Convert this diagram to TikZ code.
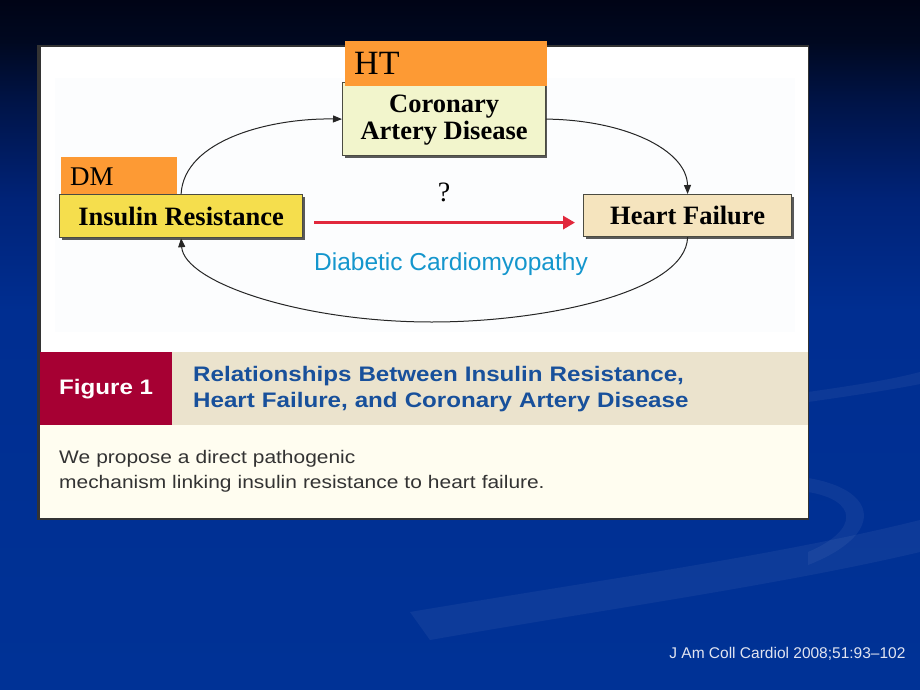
\documentclass[tikz,border=0pt]{standalone}
\usepackage{fontspec}
\setmainfont{Liberation Serif}
\newfontfamily\sansf{Liberation Sans}
\newfontfamily\sanswide[FakeStretch=1.15]{Liberation Sans}
\usetikzlibrary{arrows.meta}
\definecolor{bgtop}{RGB}{0,4,22}
\definecolor{bgtopb}{RGB}{0,8,32}
\definecolor{bgmid}{RGB}{0,20,72}
\definecolor{bgmidb}{RGB}{0,35,120}
\definecolor{bglow}{RGB}{0,46,145}
\definecolor{bgbot}{RGB}{0,50,150}
\definecolor{orangetag}{RGB}{253,154,52}
\definecolor{cadfill}{RGB}{242,245,204}
\definecolor{irfill}{RGB}{245,222,77}
\definecolor{hffill}{RGB}{245,228,190}
\definecolor{figred}{RGB}{166,0,51}
\definecolor{bandbeige}{RGB}{235,227,205}
\definecolor{creamy}{RGB}{255,253,240}
\definecolor{capblue}{RGB}{24,80,155}
\definecolor{dcblue}{RGB}{20,150,205}
\definecolor{redarr}{RGB}{225,40,60}
\definecolor{boxline}{RGB}{75,75,65}
\definecolor{citegray}{RGB}{225,228,240}
\definecolor{diagbg}{RGB}{252,253,254}
\pgfdeclareverticalshading{bgshade}{100bp}{color(0bp)=(bgbot); color(25bp)=(bgbot); color(52.5bp)=(bglow); color(60.5bp)=(bgmidb); color(67.5bp)=(bgmid); color(72bp)=(bgtopb); color(75bp)=(bgtop); color(100bp)=(bgtop)}
\tikzset{
  tag/.style={fill=orangetag, draw=none, inner xsep=9pt, inner ysep=0pt, anchor=north west, align=left},
  mainbox/.style={draw=boxline, line width=1.2pt, anchor=north west, align=center, inner sep=0pt,
     font=\fontsize{26.5}{29}\selectfont\bfseries},
  flow/.style={draw=black!85, line width=1pt, -{Triangle[length=9pt,width=7pt]}},
  shadowbox/.style={fill=black!65, draw=none},
  swoosh/.style={fill=white, opacity=0.05, draw=none}
}
\begin{document}
\begin{tikzpicture}[x=1pt,y=-1pt]
\useasboundingbox (0,0) rectangle (920,690);
% background
\fill[shading=bgshade] (0,0) rectangle (920,690);
\fill[swoosh] (808,392) .. controls (850,386) and (890,380) .. (920,372) -- (920,384) .. controls (890,390) and (850,396) .. (808,402) -- cycle;
\fill[swoosh] (410,612) .. controls (600,580) and (780,555) .. (920,520) -- (920,552) .. controls (780,585) and (600,610) .. (430,640) -- cycle;
\fill[swoosh] (808,478) .. controls (880,490) and (885,535) .. (808,565) -- (808,552) .. controls (860,530) and (858,500) .. (808,492) -- cycle;
% panel
\fill[black!80] (37,45) rectangle (809,520);
\fill[white] (41,47) rectangle (808,517);
\fill[diagbg] (55,78) rectangle (795,332);
% caption parts
\node[fill=figred, anchor=north west, minimum width=132pt, minimum height=73pt, inner sep=0pt, text=white,
      font=\sanswide\fontsize{21}{24}\selectfont\bfseries] (fig) at (40,352) {Figure 1};
\node[fill=bandbeige, anchor=north west, minimum width=636pt, minimum height=73pt, inner xsep=21pt, inner ysep=0pt,
      text width=594pt, align=left, text=capblue, font=\sanswide\fontsize{21}{26}\selectfont\bfseries] (band) at (172,352)
      {Relationships Between Insulin Resistance,\\Heart Failure, and Coronary Artery Disease};
\node[fill=creamy, anchor=north west, minimum width=768pt, minimum height=93pt, inner xsep=19pt, inner ysep=0pt,
      text width=730pt, align=left, text=black!80, font=\sanswide\fontsize{18.2}{25}\selectfont] (legend) at (40,425)
      {We propose a direct pathogenic\\mechanism linking insulin resistance to heart failure.};
% shadows
\fill[shadowbox] (345,85) rectangle (547,158);
\fill[shadowbox] (62,197) rectangle (305,240);
\fill[shadowbox] (586,197) rectangle (794,239);
% boxes
\node[mainbox, fill=cadfill, minimum width=203pt, minimum height=73pt] (cad) at (342,82) {\strut Coronary\\[-2pt]Artery Disease};
\node[tag, text width=184pt, minimum height=45pt, font=\fontsize{34}{36}\selectfont] (ht) at (345,41) {HT};
\node[tag, text width=98pt, minimum height=39pt, font=\fontsize{27}{29}\selectfont] (dm) at (61,157) {DM};
\node[mainbox, fill=irfill, minimum width=243pt, minimum height=43pt] (ir) at (59,194) {Insulin Resistance};
\node[mainbox, fill=hffill, minimum width=208pt, minimum height=42pt] (hf) at (583,194) {Heart Failure};
% connectors
\draw[flow] (ir.north) .. controls (184,140) and (270,118) .. (cad.west);
\draw[flow] (cad.east) .. controls (625,120) and (687,150) .. (hf.north);
\draw[flow] (hf.south) .. controls (686,292) and (545,322) .. (432,322)
                       .. controls (300,322) and (184,282) .. (ir.south);
\draw[redarr, line width=3.5pt, -{Triangle[length=12pt,width=13pt]}]
   ([xshift=11pt,yshift=-6.5pt]ir.east) -- ([xshift=-8pt,yshift=-7pt]hf.west);
\node[font=\fontsize{28}{30}\selectfont] (q) at (444,192) {?};
\node[text=dcblue, font=\sansf\fontsize{24.5}{27}\selectfont] (dc) at (451,264) {Diabetic Cardiomyopathy};
% citation
\node[anchor=east, text=citegray, font=\sansf\fontsize{15.5}{17}\selectfont] (cite) at (909,654) {J Am Coll Cardiol 2008;51:93–102};
\end{tikzpicture}
\end{document}
